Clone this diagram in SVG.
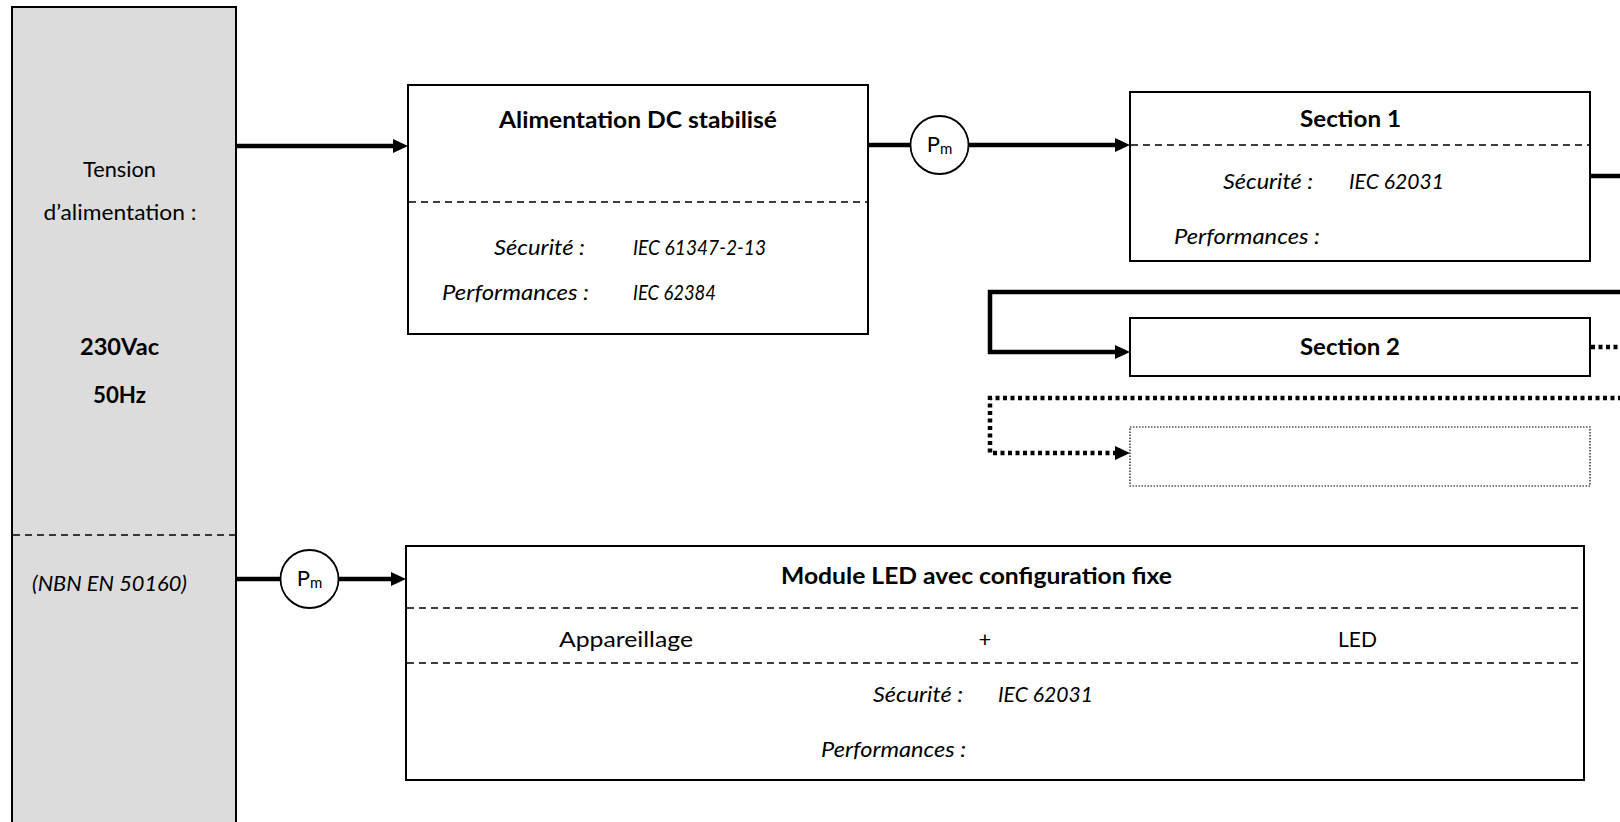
<svg xmlns="http://www.w3.org/2000/svg" width="1620" height="822" viewBox="0 0 1620 822">
<style>
  text { font-family: Lato, "Open Sans", "Liberation Sans", sans-serif; font-size: 22px; fill: #000; }
  .b { font-weight: bold; }
  .i { font-style: italic; }
  .mid { text-anchor: middle; }
  .box { fill: #fff; stroke: #000; stroke-width: 2; }
  .sep { stroke: #000; stroke-width: 1.6; stroke-dasharray: 7 5; fill: none; }
  .wire { stroke: #000; stroke-width: 4.5; fill: none; }
  .dot { stroke: #000; stroke-width: 4.5; stroke-dasharray: 4 3.5; fill: none; }
  .pm { fill: #fff; stroke: #000; stroke-width: 1.8; }
  .sub { font-size: 15px; }
</style>
<defs>
  <marker id="arr" markerUnits="userSpaceOnUse" markerWidth="16" markerHeight="16" refX="0" refY="7" orient="auto">
    <path d="M0,0 L15,7 L0,14 z" fill="#000"/>
  </marker>
</defs>

<g id="source">
  <rect x="12" y="7" width="224" height="830" fill="#dcdcdc" stroke="#000" stroke-width="2"/>
  <line x1="13" y1="535" x2="235" y2="535" class="sep"/>
  <text x="83" y="177" textLength="73" lengthAdjust="spacingAndGlyphs">Tension</text>
  <text x="43.5" y="220" textLength="153" lengthAdjust="spacingAndGlyphs">d’alimentation :</text>
  <text x="80" y="355" class="b" textLength="79" lengthAdjust="spacingAndGlyphs">230Vac</text>
  <text x="93" y="403" class="b" textLength="53" lengthAdjust="spacingAndGlyphs">50Hz</text>
  <text x="32" y="591" class="i" textLength="155" lengthAdjust="spacingAndGlyphs">(NBN EN 50160)</text>
</g>

<g id="alimentation">
  <rect x="408" y="85" width="460" height="249" class="box"/>
  <line x1="409" y1="202" x2="867" y2="202" class="sep"/>
  <text x="499" y="128" class="b" textLength="278" lengthAdjust="spacingAndGlyphs">Alimentation DC stabilisé</text>
  <text x="494" y="255" class="i" textLength="91" lengthAdjust="spacingAndGlyphs">Sécurité :</text>
  <text x="633" y="255" class="i" textLength="133" lengthAdjust="spacingAndGlyphs">IEC 61347-2-13</text>
  <text x="442" y="300" class="i" textLength="147" lengthAdjust="spacingAndGlyphs">Performances :</text>
  <text x="633" y="300" class="i" textLength="83" lengthAdjust="spacingAndGlyphs">IEC 62384</text>
</g>

<g id="section1">
  <rect x="1130" y="92" width="460" height="169" class="box"/>
  <line x1="1131" y1="145" x2="1589" y2="145" class="sep"/>
  <text x="1300" y="127" class="b" textLength="101" lengthAdjust="spacingAndGlyphs">Section 1</text>
  <text x="1223" y="189" class="i" textLength="90" lengthAdjust="spacingAndGlyphs">Sécurité :</text>
  <text x="1349" y="189" class="i" textLength="95" lengthAdjust="spacingAndGlyphs">IEC 62031</text>
  <text x="1174" y="244" class="i" textLength="146" lengthAdjust="spacingAndGlyphs">Performances :</text>
</g>

<g id="section2">
  <rect x="1130" y="318" width="460" height="58" class="box"/>
  <text x="1300" y="355" class="b" textLength="100" lengthAdjust="spacingAndGlyphs">Section 2</text>
</g>

<g id="section-n">
  <rect x="1130" y="427" width="460" height="59" fill="#fff" stroke="#000" stroke-width="1.2" stroke-dasharray="1.5 1.5"/>
</g>

<g id="module-led">
  <rect x="406" y="546" width="1178" height="234" class="box"/>
  <line x1="407" y1="608" x2="1583" y2="608" class="sep"/>
  <line x1="407" y1="663" x2="1583" y2="663" class="sep"/>
  <text x="781" y="584" class="b" textLength="391" lengthAdjust="spacingAndGlyphs">Module LED avec configuration fixe</text>
  <text x="559" y="647" textLength="134" lengthAdjust="spacingAndGlyphs">Appareillage</text>
  <text x="985" y="647" class="mid">+</text>
  <text x="1338" y="647" textLength="39" lengthAdjust="spacingAndGlyphs">LED</text>
  <text x="873" y="702" class="i" textLength="90" lengthAdjust="spacingAndGlyphs">Sécurité :</text>
  <text x="998" y="702" class="i" textLength="95" lengthAdjust="spacingAndGlyphs">IEC 62031</text>
  <text x="821" y="757" class="i" textLength="145" lengthAdjust="spacingAndGlyphs">Performances :</text>
</g>

<g id="connectors">
  <line x1="236" y1="146" x2="393" y2="146" class="wire" marker-end="url(#arr)"/>
  <line x1="868" y1="145" x2="911" y2="145" class="wire"/>
  <line x1="968" y1="145" x2="1115" y2="145" class="wire" marker-end="url(#arr)"/>
  <line x1="1590" y1="176" x2="1620" y2="176" class="wire"/>
  <path d="M1622,292 H990 V352 H1115" class="wire" stroke-linejoin="miter" marker-end="url(#arr)"/>
  <line x1="1591" y1="347" x2="1622" y2="347" class="dot"/>
  <path d="M1622,398 H990 V453 H1115" class="dot" marker-end="url(#arr)"/>
  <line x1="236" y1="579" x2="281" y2="579" class="wire"/>
  <line x1="338" y1="579" x2="391" y2="579" class="wire" marker-end="url(#arr)"/>
</g>

<g id="pm1">
  <circle cx="939.5" cy="145" r="29" class="pm"/>
  <text x="939.5" y="152" class="mid">P<tspan class="sub" dy="2">m</tspan></text>
</g>
<g id="pm2">
  <circle cx="309.5" cy="579" r="29" class="pm"/>
  <text x="309.5" y="586" class="mid">P<tspan class="sub" dy="2">m</tspan></text>
</g>
</svg>
